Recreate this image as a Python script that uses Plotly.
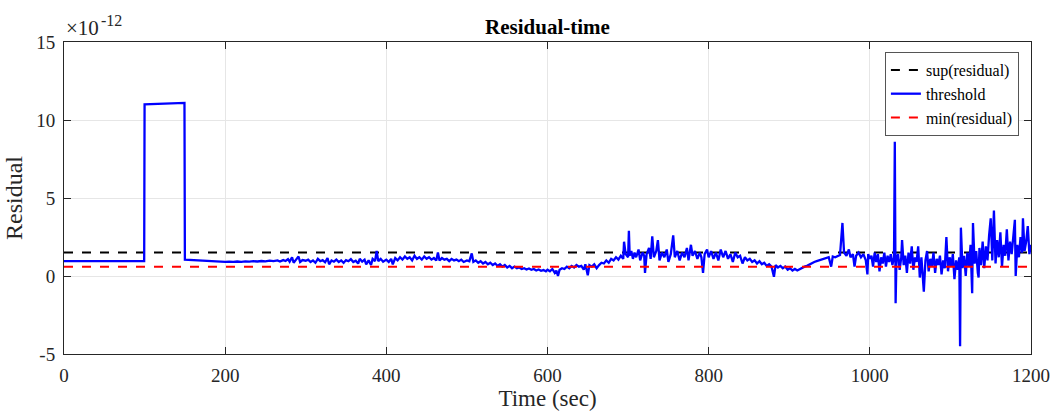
import plotly.graph_objects as go

# ---- data (residual values in units of 1e-12) ----
TIME = [
    0, 50, 99.5, 100, 115, 130, 149.5, 150, 160, 170, 180, 190, 200,
    205, 210, 215, 220, 225, 230, 235, 240, 245, 250, 255, 260, 265, 268, 272, 275, 278, 280, 283, 285, 288, 291, 293, 296, 300,
    303, 306, 309, 312, 315, 318, 321, 324, 327, 329, 332, 335, 338, 341, 344, 347, 350, 353, 356, 359, 362, 365, 367, 370, 373, 375, 378, 381, 383, 386, 388, 390, 393, 396, 400,
    403, 406, 408, 411, 414, 417, 420, 423, 426, 429, 432, 435, 438, 441, 444, 447, 450, 453, 456, 459, 462, 464, 466, 469, 472, 475, 478, 481, 484, 487, 490, 493, 496, 500,
    503, 506, 508, 511, 514, 517, 520, 523, 526, 529, 532, 535, 538, 541, 544, 547, 550, 553, 556, 559, 562, 565, 568, 571, 574, 577, 580, 583, 586, 589, 592, 595, 598, 600,
    603, 606, 609, 611, 613, 615, 618, 621, 624, 627, 630, 633, 636, 639, 642, 645, 647, 650, 652, 655, 658, 661, 664, 667, 670, 673, 676, 679, 682, 685, 688, 691, 694, 695, 697, 700, 701, 702,
    704, 706, 708, 710, 713, 715, 718, 720, 721, 723, 726, 728, 730, 732, 735, 737, 739, 742, 745, 748, 750, 753, 756, 758, 761, 764, 767, 770, 773, 775, 778, 780, 783, 786, 789, 791, 793, 795, 798, 800,
    803, 806, 809, 812, 815, 818, 821, 824, 827, 830, 833, 836, 839, 842, 845, 848, 851, 854, 857, 860, 863, 866, 869, 872, 875, 878, 881, 883, 886, 889, 892, 895, 898, 901, 904, 907, 910, 913, 916, 919, 922, 925, 928, 931, 934, 937, 940, 943, 946, 949, 952, 954, 957, 960, 963, 966, 968, 971, 974, 976, 979, 981, 983, 986, 989, 992, 995, 997, 998, 1000,
    1002, 1004, 1006, 1008, 1010, 1012, 1014, 1016, 1018, 1020, 1022, 1024, 1026, 1028, 1030, 1031, 1032, 1033, 1035, 1037, 1039, 1040, 1042, 1044, 1046, 1048, 1050, 1052, 1054, 1056, 1058, 1060, 1062, 1064, 1066, 1067, 1069, 1071, 1073, 1075, 1077, 1079, 1081, 1083, 1085, 1087, 1089, 1091, 1093, 1095, 1097, 1099,
    1101, 1103, 1105, 1107, 1109, 1111, 1112, 1113, 1115, 1117, 1119, 1121, 1123, 1125, 1127, 1128, 1130, 1132, 1134, 1135, 1136, 1138, 1140, 1142, 1144, 1146, 1148, 1150, 1152, 1154, 1156, 1158, 1160, 1162, 1164, 1166, 1168, 1170, 1172, 1174, 1176, 1178, 1180, 1181, 1183, 1185, 1187, 1189, 1190, 1192, 1194, 1196, 1198, 1200,
]
RESIDUAL = [
    0.95, 0.95, 0.95, 11.0, 11.02, 11.05, 11.1, 1.05, 1.02, 0.98, 0.93, 0.92, 0.9,
    0.92, 0.9, 0.93, 0.91, 0.94, 0.92, 0.95, 0.93, 0.96, 0.94, 0.98, 0.95, 1.0, 0.93, 1.02, 0.96, 1.08, 0.92, 1.2, 0.85, 1.05, 1.25, 0.9, 1.02, 0.98,
    1.05, 0.9, 1.0, 0.85, 1.1, 0.95, 1.02, 0.88, 1.15, 0.75, 1.0, 0.92, 1.05, 0.9, 1.0, 0.85, 1.02, 0.95, 1.08, 0.9, 0.98, 0.8, 1.1, 0.92, 1.05, 0.75, 1.0, 0.7, 1.1, 0.95, 1.6, 0.95, 1.1, 0.92, 1.05,
    0.9, 1.1, 0.75, 1.15, 1.0, 1.2, 1.05, 1.25, 1.1, 1.2, 1.0, 1.3, 1.1, 1.2, 1.05, 1.25, 1.1, 1.2, 1.05, 1.15, 1.0, 1.5, 1.0, 1.15, 1.05, 1.1, 0.95, 1.1, 1.0, 1.05, 0.95, 1.05, 0.9, 1.0,
    0.95, 1.45, 0.9, 1.0, 0.85, 0.95, 0.8, 0.9, 0.75, 0.85, 0.7, 0.8, 0.65, 0.75, 0.6, 0.7, 0.55, 0.65, 0.5, 0.6, 0.5, 0.55, 0.45, 0.5, 0.42, 0.48, 0.4, 0.45, 0.35, 0.42, 0.33, 0.38, 0.3, 0.4,
    0.3, 0.45, 0.2, 0.35, 0.0, 0.4, 0.5, 0.45, 0.6, 0.5, 0.65, 0.55, 0.7, 0.6, 0.65, 0.4, 0.75, 0.05, 0.7, 0.6, 0.75, 0.5, 0.7, 0.85, 0.8, 1.0, 0.85, 1.1, 1.0, 1.2, 1.05, 1.3, 1.1, 2.2, 1.4, 1.2, 2.9, 1.3,
    1.6, 1.1, 1.5, 1.2, 1.7, 1.0, 1.5, 1.3, 0.2, 1.4, 1.8, 1.1, 2.55, 1.2, 1.6, 2.3, 1.0, 1.5, 1.2, 1.7, 0.9, 1.4, 2.6, 1.2, 1.6, 1.0, 1.5, 1.2, 1.8, 1.0, 2.0, 1.3, 1.6, 1.1, 1.5, 1.2, 0.2, 1.4, 1.7, 1.2,
    1.6, 1.1, 1.5, 1.0, 1.7, 1.2, 1.6, 1.1, 1.4, 0.9, 1.5, 1.2, 1.3, 0.8, 1.2, 1.0, 1.1, 0.9, 1.0, 0.8, 0.95, 0.75, 0.85, 0.65, 0.75, 0.6, -0.05, 0.7, 0.55, 0.65, 0.5, 0.6, 0.4, 0.5, 0.35, 0.45, 0.35, 0.45, 0.5, 0.6, 0.65, 0.75, 0.8, 0.9, 0.95, 1.0, 1.05, 1.1, 1.15, 1.2, 0.6, 1.25, 1.2, 1.3, 1.35, 3.4, 1.5, 1.3, 1.7, 1.2, 1.4, 0.6, 1.3, 1.5, 1.2, 1.4, 1.0, 0.1, 1.4, 1.1,
    1.3, 0.6, 1.5, 0.9, 1.4, 0.3, 1.2, 0.8, 1.5, 0.6, 1.3, 0.9, 1.4, 0.7, 1.2, 8.6, -1.75, 1.0, 1.4, 0.4, 1.2, 2.3, 0.7, 1.3, 0.2, 1.5, 0.8, 1.9, 0.4, 1.2, 0.9, 1.9, -0.1, 1.2, -0.3, -1.0, 1.0, 1.6, 0.3, 1.1, 0.6, 1.5, 0.2, 1.1, 0.7, 1.3, 0.1, 1.0, 0.5, 2.5, 0.3, 1.2,
    0.6, 1.4, -0.2, 1.0, 0.4, 1.2, -4.5, 3.1, 0.5, 1.3, 0.0, 1.5, 0.6, 2.0, -1.1, 3.4, 0.8, 1.6, 0.2, -0.1, 1.8, 0.7, 2.2, 0.5, 1.9, 1.0, 2.6, 3.7, 1.0, 4.2, 0.8, 2.3, 1.2, 2.8, 0.6, 2.0, 1.3, 3.0, 1.0, 2.2, 1.4, 2.8, 3.6, 0.0, 2.0, 1.2, 2.5, 1.5, 3.7, 1.6, 2.2, 3.2, 1.4, 2.0,
]
SUP_RESIDUAL = 1.5
MIN_RESIDUAL = 0.6
X_RANGE = [0, 1200]
Y_RANGE = [-5, 15]
X_TICKS = [0, 200, 400, 600, 800, 1000, 1200]
Y_TICKS = [-5, 0, 5, 10, 15]
Y_TICK_TEXT = ["-5", "0", "5", "10", "15"]

FONT = "Liberation Serif, Times New Roman, serif"
AX = "#262626"

fig = go.Figure()
fig.add_trace(go.Scatter(
    x=X_RANGE, y=[SUP_RESIDUAL, SUP_RESIDUAL], mode="lines",
    name="sup(residual)", line=dict(color="black", width=2, dash="dash"),
))
fig.add_trace(go.Scatter(
    x=TIME, y=RESIDUAL, mode="lines",
    name="threshold", line=dict(color="#0000FF", width=2.3),
))
fig.add_trace(go.Scatter(
    x=X_RANGE, y=[MIN_RESIDUAL, MIN_RESIDUAL], mode="lines",
    name="min(residual)", line=dict(color="#FF0000", width=2, dash="dash"),
))

axis_common = dict(
    showline=True, linecolor=AX, linewidth=1, mirror="ticks",
    ticks="inside", ticklen=7, tickcolor=AX,
    showgrid=True, gridcolor="#E6E6E6", gridwidth=1,
    zeroline=False, tickfont=dict(family=FONT, size=19, color=AX),
    automargin=False,
)

fig.update_layout(
    width=1056, height=412,
    margin=dict(l=64, r=25, t=42, b=58, autoexpand=False),
    paper_bgcolor="white", plot_bgcolor="white",
    font=dict(family=FONT, color=AX),
    title=dict(text="<b>Residual-time</b>", x=0.5, xanchor="center",
               xref="paper", y=1 - 27 / 412, yref="container", yanchor="middle",
               font=dict(family=FONT, size=21, color="black")),
    xaxis=dict(range=X_RANGE, tickvals=X_TICKS, ticklabelstandoff=4,
               title=dict(text="Time (sec)", font=dict(family=FONT, size=23, color=AX), standoff=4),
               **axis_common),
    yaxis=dict(range=Y_RANGE, tickvals=Y_TICKS, ticktext=Y_TICK_TEXT, ticklabelstandoff=4,
               title=dict(text="Residual", font=dict(family=FONT, size=24, color=AX), standoff=6),
               **axis_common),
    legend=dict(x=0.9875, y=0.968, xanchor="right", yanchor="top",
                bgcolor="white", bordercolor="#555555", borderwidth=1,
                font=dict(family=FONT, size=16, color="black"),
                tracegroupgap=0, itemwidth=30),
    showlegend=True,
)

fig.add_annotation(
    text="\u00d710", xref="paper", yref="paper",
    x=0.0, y=1.0, xanchor="left", yanchor="bottom", showarrow=False,
    font=dict(family=FONT, size=21, color=AX), xshift=0, yshift=0,
)
fig.add_annotation(
    text="-12", xref="paper", yref="paper",
    x=0.0, y=1.0, xanchor="left", yanchor="bottom", showarrow=False,
    font=dict(family=FONT, size=16, color=AX), xshift=35, yshift=11,
)

fig.write_html("out.html", config={"displayModeBar": False},
               post_script="document.body.style.margin='0';")
